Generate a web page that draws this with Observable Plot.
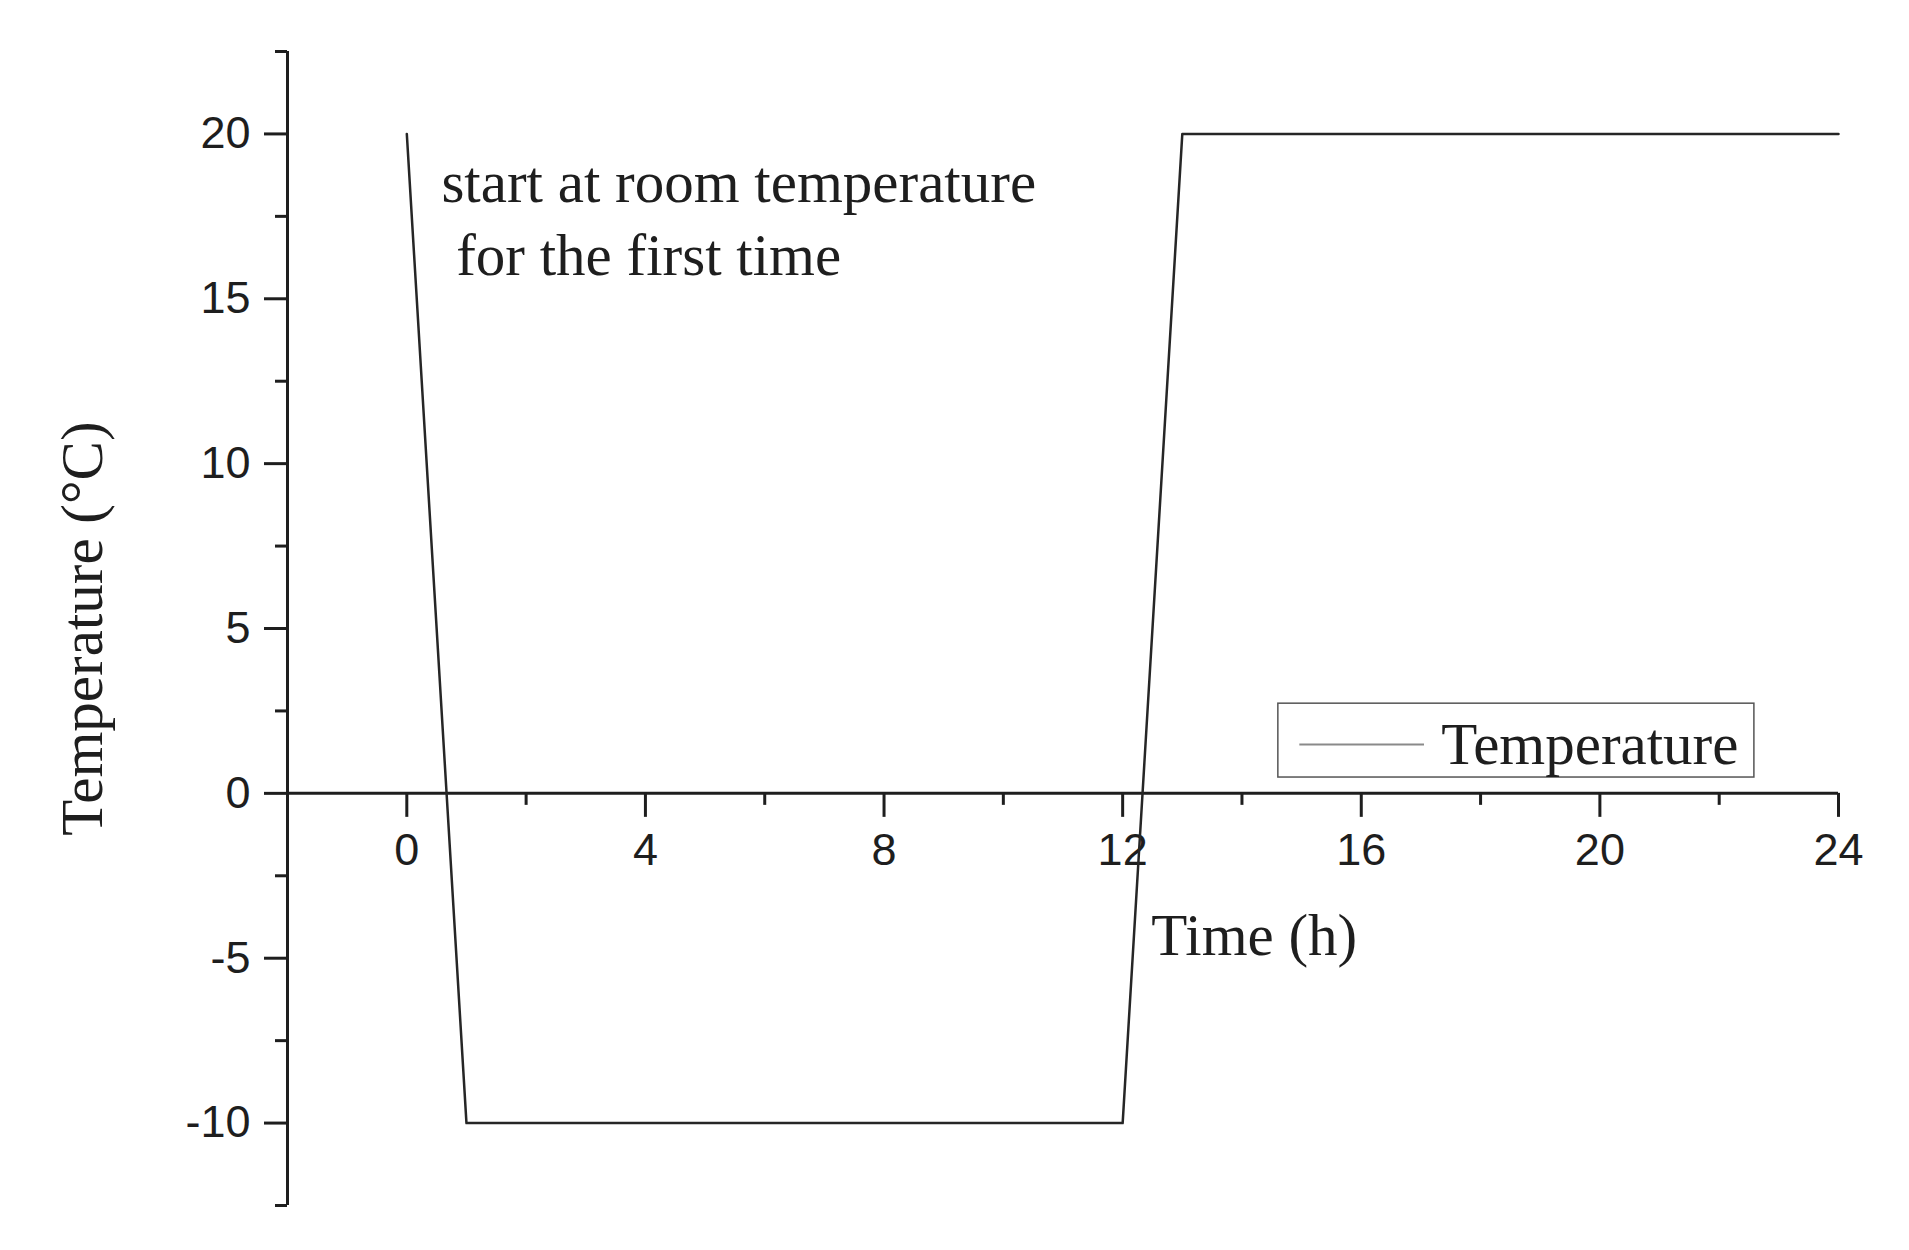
<!DOCTYPE html>
<html>
<head>
<meta charset="utf-8">
<script src="https://cdn.jsdelivr.net/npm/d3@7"></script>
<script src="https://cdn.jsdelivr.net/npm/@observablehq/plot@0.6"></script>
<style>
  html, body { margin: 0; padding: 0; background: #fff; }
  #chart svg { display: block; }
</style>
</head>
<body>
<div id="chart"></div>
<script>
// ---- data ----
const timeH = [0, 1, 12, 13, 24];
const tempC = [20, -10, -10, 20, 20];
const seriesNames = ["Temperature"];
const xMajorTicks = [0, 4, 8, 12, 16, 20, 24];
const xMinorTicks = [2, 6, 10, 14, 18, 22];
const yMajorTicks = [-10, -5, 0, 5, 10, 15, 20];
const yMinorTicks = [-12.5, -7.5, -2.5, 2.5, 7.5, 12.5, 17.5, 22.5];
const xLabel = "Time (h)";
const yLabel = "Temperature (°C)";
const noteLines = ["start at room temperature", "\u00a0for the first time"];

const series = timeH.map((t, i) => ({t, temp: tempC[i]}));

const SANS = "Liberation Sans, Arial, sans-serif";
const SERIF = "Liberation Serif, Times New Roman, serif";
const INK = "#1e1e1e";

const chart = Plot.plot({
  width: 1909,
  height: 1250,
  marginLeft: 287,
  marginRight: 71,
  marginTop: 51,
  marginBottom: 45,
  x: {domain: [-2, 24], axis: null},
  y: {domain: [-12.5, 22.5], axis: null},
  style: {background: "#fff", overflow: "visible"},
  marks: [
    // axis lines
    Plot.ruleX([-2], {y1: -12.5, y2: 22.5, stroke: INK, strokeWidth: 3}),
    Plot.ruleY([0], {x1: -2, x2: 24, stroke: INK, strokeWidth: 3}),
    // y ticks (pointing left)
    Plot.ruleY(yMajorTicks, {y: d => d, x1: -2, x2: -2, insetLeft: -23, stroke: INK, strokeWidth: 3}),
    Plot.ruleY(yMinorTicks, {y: d => d, x1: -2, x2: -2, insetLeft: -12, stroke: INK, strokeWidth: 3}),
    // x ticks (pointing down from y=0)
    Plot.ruleX(xMajorTicks, {x: d => d, y1: 0, y2: 0, insetBottom: -24, stroke: INK, strokeWidth: 3}),
    Plot.ruleX(xMinorTicks, {x: d => d, y1: 0, y2: 0, insetBottom: -12, stroke: INK, strokeWidth: 3}),
    // tick labels
    Plot.text(yMajorTicks, {x: -2, y: d => d, text: d => String(d), textAnchor: "end", dx: -37,
      fontSize: 45, fontFamily: SANS, fill: INK}),
    Plot.text(xMajorTicks, {x: d => d, y: 0, text: d => String(d), textAnchor: "middle", dy: 57,
      fontSize: 45, fontFamily: SANS, fill: INK}),
    // axis titles
    Plot.text([yLabel], {frameAnchor: "left", text: d => d, rotate: -90, textAnchor: "middle", dx: -204,
      fontSize: 59, fontFamily: SERIF, fill: INK}),
    Plot.text([xLabel], {x: 12.48, y: -4.33, text: d => d, textAnchor: "start",
      fontSize: 59, fontFamily: SERIF, fill: INK}),
    // annotation
    Plot.text([noteLines[0]], {x: 0.58, y: 18.5, text: d => d, textAnchor: "start",
      fontSize: 59, fontFamily: SERIF, fill: INK}),
    Plot.text([noteLines[1]], {x: 0.58, y: 16.29, text: d => d, textAnchor: "start",
      fontSize: 59, fontFamily: SERIF, fill: INK}),
    // data line
    Plot.line(series, {x: "t", y: "temp", stroke: "#262626", strokeWidth: 2.5}),
    // legend
    Plot.rect([seriesNames[0]], {x1: 14.61, x2: 22.59, y1: 0.48, y2: 2.72,
      fill: "#fff", stroke: "#555", strokeWidth: 1.5}),
    Plot.ruleY([seriesNames[0]], {y: () => 1.48, x1: 14.97, x2: 17.06, stroke: "#8a8a8a", strokeWidth: 2}),
    Plot.text(seriesNames, {x: 17.34, y: 1.45, text: d => d, textAnchor: "start",
      fontSize: 59, fontFamily: SERIF, fill: INK})
  ]
});

document.getElementById("chart").appendChild(chart);
</script>
</body>
</html>
